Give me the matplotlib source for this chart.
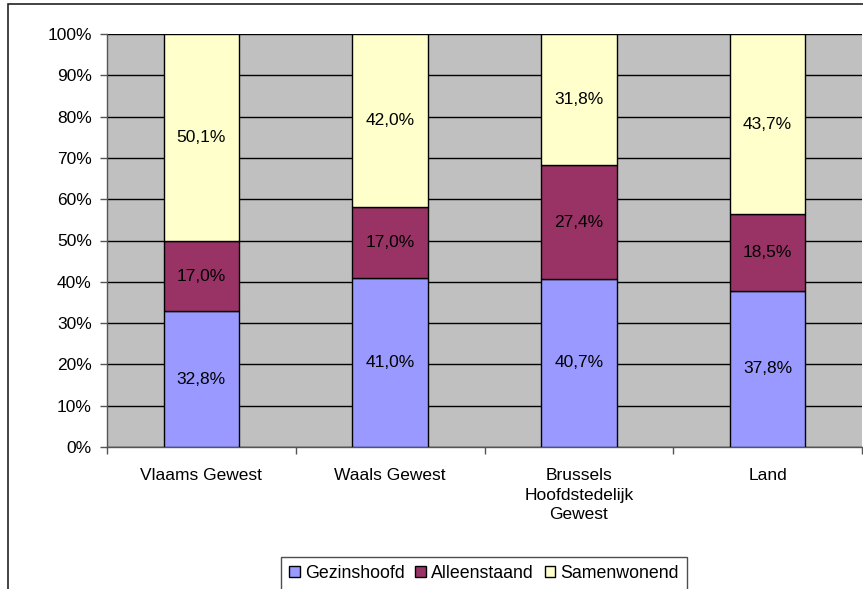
import matplotlib
matplotlib.use("Agg")
import matplotlib.pyplot as plt
import numpy as np
from matplotlib.patches import Rectangle

categories = ["Vlaams Gewest", "Waals Gewest", "Brussels\nHoofdstedelijk\nGewest", "Land"]
gezinshoofd = [32.8, 41.0, 40.7, 37.8]
alleenstaand = [17.0, 17.0, 27.4, 18.5]
samenwonend = [50.1, 42.0, 31.8, 43.7]
series_names = ["Gezinshoofd", "Alleenstaand", "Samenwonend"]
colors = ["#9999FF", "#993366", "#FFFFCC"]
yticks = [0, 10, 20, 30, 40, 50, 60, 70, 80, 90, 100]

plt.rcParams['font.family'] = ['Liberation Sans', 'DejaVu Sans']
FS = 12.5

W, H = 863, 589
fig = plt.figure(figsize=(W/100, H/100), dpi=100)
fig.patches.append(Rectangle((8/W, -0.1), 1.2, (H-4)/H + 0.1, transform=fig.transFigure,
                             facecolor='white', edgecolor='#222222', linewidth=1.2, zorder=-1))

ax = fig.add_axes([107/W, 1-447/H, (862-107)/W, (447-34)/H])
ax.set_facecolor('#C0C0C0')

data = np.array([gezinshoofd, alleenstaand, samenwonend])
totals = data.sum(axis=0)
pct = data / totals * 100
x = np.arange(len(categories))
bottom = np.zeros(len(categories))
bars = []
for i, name in enumerate(series_names):
    b = ax.bar(x, pct[i], 0.4, bottom=bottom, color=colors[i], edgecolor='black',
               linewidth=1, label=name, zorder=3)
    bars.append(b)
    for j in range(len(categories)):
        txt = f"{data[i][j]:.1f}".replace('.', ',') + "%"
        ax.text(x[j], bottom[j] + pct[i][j]/2, txt, ha='center', va='center',
                fontsize=FS, color='black', zorder=4)
    bottom += pct[i]

ax.set_xlim(-0.5, len(categories)-0.5)
ax.set_ylim(0, 100)
ax.set_yticks(yticks)
ax.set_yticklabels([f"{v}%" for v in yticks], fontsize=FS)
ax.yaxis.grid(True, color='black', linewidth=1, zorder=1)
ax.set_axisbelow(True)
ax.set_xticks(x)
ax.set_xticklabels(categories, fontsize=FS, linespacing=1.4, va='top')
ax.tick_params(axis='x', which='major', length=0, pad=15)
ax.set_xticks(np.arange(len(categories)+1) - 0.5, minor=True)
ax.tick_params(axis='x', which='minor', length=5, color='#555555', width=1)
ax.tick_params(axis='y', length=5, width=1, color='#555555', pad=6)
for s in ['top', 'right']:
    ax.spines[s].set_visible(False)
ax.spines['left'].set_color('#555555')
ax.spines['bottom'].set_color('#555555')
ax.spines['left'].set_linewidth(1)
ax.spines['bottom'].set_linewidth(1)

leg = fig.legend(handles=bars, labels=series_names, loc='center', bbox_to_anchor=(484/W, 1-573/H),
                 ncol=3, frameon=True, fancybox=False, edgecolor='#222222', fontsize=12.8,
                 handlelength=0.6, handleheight=0.6, handletextpad=0.3, columnspacing=0.6,
                 borderpad=0.45, borderaxespad=0)
leg.get_frame().set_linewidth(1)

fig.savefig("out.png", dpi=100)
